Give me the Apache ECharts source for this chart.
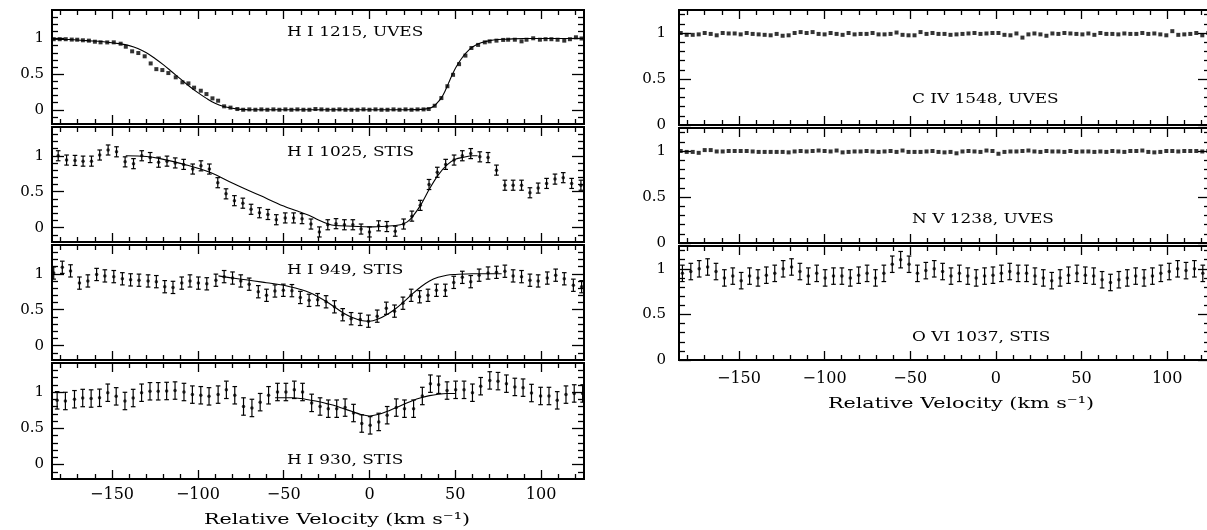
<!DOCTYPE html>
<html><head><meta charset="utf-8">
<script src="https://cdn.jsdelivr.net/npm/echarts@6/dist/echarts.min.js"></script>
<style>html,body{margin:0;padding:0;background:#fff}#c{width:1207px;height:530px}</style>
</head><body><div id="c"></div><script>
// ---------------- DATA ----------------
const xMajor = [-150, -100, -50, 0, 50, 100];
const xMinor = [-180,-170,-160,-140,-130,-120,-110,-90,-80,-70,-60,-40,-30,-20,-10,10,20,30,40,60,70,80,90,110,120];
const yMajor = [0, 0.5, 1];
const yMinorLeft = [-0.1,0.1,0.2,0.3,0.4,0.6,0.7,0.8,0.9,1.1,1.2,1.3];
const yMinorRight = [0.1,0.2,0.3,0.4,0.6,0.7,0.8,0.9,1.1,1.2];

const panelLabels = ['H I 1215, UVES','H I 1025, STIS','H I 949, STIS','H I 930, STIS','C IV 1548, UVES','N V 1238, UVES','O VI 1037, STIS'];
const axisTitle = 'Relative Velocity (km s\u207B\u00B9)';

// H I 1215 UVES (velocity, flux)
const velH1215 = [-184,-180.5,-177,-173.5,-170.3,-167,-163.5,-160,-156.7,-152.8,-149,-145,-142,-138.3,-134.7,-131,-127.5,-124.2,-120.7,-117.2,-112.9,-109,-105.5,-102.2,-98.3,-95,-91.5,-88.2,-84.7,-81,-77,-73.6,
 -70,-66.5,-63,-59.5,-56,-52.5,-49,-45.5,-42,-38.5,-35,-31.5,-28,-24.5,-21,-17.5,-14,-10.5,-7,-3.5,0,3.5,7,10.5,14,17.5,21,24.5,28,31.5,34.5,
 38,41.9,45.4,48.7,52.2,55.9,59.4,63.3,67.2,70,74,77.9,80.8,84.7,88.6,91.5,95.4,99.3,102.6,106,109.6,113.5,116.8,120.3,123.6];
const fluxH1215 = [0.99,0.99,0.99,0.985,0.983,0.975,0.97,0.955,0.946,0.945,0.946,0.927,0.885,0.82,0.796,0.75,0.65,0.57,0.557,0.515,0.455,0.385,0.37,0.31,0.267,0.22,0.16,0.127,0.048,0.03,0.01,0.0,
 0.005,0.0,0.005,0.0,0.005,0.0,0.005,0.0,0.005,0.0,0.0,0.01,0.005,0.0,0.0,0.005,0.0,0.0,0.0,0.005,0.0,0.005,0.0,0.0,0.005,0.0,0.005,0.0,0.005,0.005,0.01,
 0.056,0.164,0.33,0.49,0.64,0.76,0.867,0.91,0.946,0.96,0.97,0.98,0.983,0.983,0.96,0.983,1.003,0.983,0.99,0.99,0.983,0.97,0.99,1.017,1.0];
const modelVel1215 = [-185,-175,-165,-155,-145,-140,-135,-130,-125,-120,-115,-110,-105,-100,-95,-90,-85,-80,-75,-70,-60,-40,-20,0,20,30,35,38,40,42,44,46,48,50,52,54,56,58,60,62,65,70,75,80,90,100,125];
const model1215 = [0.99,0.985,0.97,0.955,0.925,0.9,0.86,0.8,0.72,0.63,0.53,0.43,0.33,0.24,0.16,0.09,0.045,0.02,0.005,0,0,0,0,0,0,0.005,0.02,0.06,0.11,0.17,0.26,0.37,0.48,0.58,0.66,0.73,0.79,0.84,0.88,0.91,0.94,0.97,0.985,0.99,1.0,1.0,1.0];

// H I 1025 STIS
const velH1025 = [-181.4,-176.5,-171.6,-166.9,-162,-157.2,-152.3,-147.4,-142.4,-137.5,-132.7,-127.8,-122.9,-118,-113.2,-108.3,-103,-98.2,-93.3,-88.4,-83.6,-78.7,-73.8,-69,-64.1,-59.2,-54.3,-49.1,-44.2,-39.3,-34.1,-29.2,-24.3,-19.5,-14.6,-9.7,-4.9,0,5.3,10.1,15,19.9,24.7,29.6,34.7,39.5,44.4,49.3,54.1,59,64.3,69.1,74,78.9,83.7,88.6,93.5,98.3,103.2,108.1,112.9,117.8,123.2];
const fluxH1025 = [1.0,0.94,0.935,0.925,0.925,1.01,1.08,1.055,0.915,0.89,1.0,0.975,0.91,0.925,0.9,0.88,0.815,0.86,0.815,0.625,0.47,0.375,0.34,0.255,0.207,0.183,0.11,0.135,0.135,0.125,0.05,-0.06,0.04,0.055,0.04,0.04,-0.02,-0.06,0.025,0.015,-0.05,0.05,0.16,0.31,0.6,0.77,0.88,0.94,1.0,1.03,0.985,0.975,0.8,0.59,0.59,0.59,0.485,0.55,0.615,0.675,0.695,0.615,0.59];
const errH1025 = 0.07;
const modelVel1025 = [-142,-130,-122,-108,-93,-79,-64,-50,-41,-35,-30,-24,-20,-10,0,10,18,22,25,30,35,40,45,50,55,60,63];
const model1025 = [1.0,0.99,0.96,0.88,0.77,0.61,0.45,0.30,0.22,0.17,0.11,0.05,0.03,0.02,0.01,0.02,0.04,0.08,0.15,0.32,0.54,0.73,0.87,0.95,0.98,1.0,1.0];

// H I 949 STIS
const velH949 = [-184,-179,-174.2,-169,-164.1,-159,-154.2,-149,-144,-139.2,-134.3,-129,-124.2,-119.3,-114.5,-109.4,-104.6,-99.7,-94.8,-89.5,-84.7,-79.8,-75,-70.1,-64.8,-60,-55.1,-50.2,-45.2,-40.3,-35.2,-30.2,-25.3,-20.4,-15.6,-10.7,-5.4,-0.6,4.5,9.8,14.6,19.5,24.3,29.2,34.1,39,44.2,49.1,54.1,59,63.9,69.1,74,78.9,83.7,88.6,93.5,98.3,103.6,108.5,113.5,118.8,123.6];
const fluxH949 = [1.01,1.09,1.04,0.87,0.9,0.99,0.97,0.96,0.93,0.915,0.91,0.9,0.89,0.82,0.81,0.87,0.9,0.87,0.86,0.91,0.96,0.94,0.9,0.855,0.75,0.7,0.76,0.77,0.765,0.67,0.63,0.64,0.61,0.54,0.43,0.375,0.365,0.34,0.41,0.52,0.48,0.59,0.7,0.68,0.7,0.77,0.77,0.88,0.95,0.89,0.98,1.01,1.02,1.035,0.97,0.96,0.91,0.9,0.94,0.98,0.93,0.84,0.82];
const errH949 = 0.085;
const modelVel949 = [-88,-80,-70,-60,-50,-40,-35,-30,-25,-20,-15,-10,-5,0,5,10,15,20,25,30,35,40,45,50,60,77];
const model949 = [0.97,0.94,0.91,0.875,0.84,0.78,0.74,0.68,0.61,0.53,0.45,0.39,0.35,0.34,0.37,0.43,0.51,0.61,0.72,0.82,0.9,0.95,0.98,0.99,1.0,1.0];

// H I 930 STIS
const velH930 = [-182,-177.2,-171.9,-167.1,-162.2,-157.3,-152.5,-147.6,-142.5,-137.7,-132.8,-127.9,-123.1,-118.2,-113.3,-108.1,-103.2,-98.3,-93.5,-88.2,-83.4,-78.5,-73.4,-68.5,-63.7,-58.8,-53.6,-48.7,-43.8,-39,-33.7,-28.8,-24,-19.1,-14.2,-9.3,-4.5,0.4,5.4,10.3,15.6,20.4,25.7,30.8,35.5,40.3,45.2,50.2,55.1,60,64.8,70.1,74.9,79.8,84.7,89.5,94.4,99.7,104.6,109.4,114.5,119.3,124.2];
const fluxH930 = [0.885,0.876,0.9,0.917,0.91,0.92,0.99,0.94,0.876,0.917,0.99,1.01,1.01,1.014,1.02,1.0,0.964,0.955,0.94,0.964,1.03,0.955,0.8,0.78,0.86,0.955,1.0,1.0,1.03,1.0,0.85,0.8,0.77,0.77,0.785,0.71,0.565,0.54,0.587,0.68,0.785,0.77,0.77,0.945,1.115,1.1,1.02,1.03,1.03,0.99,1.08,1.16,1.15,1.115,1.07,1.06,0.986,0.945,0.945,0.885,0.964,0.98,0.98];
const errH930 = 0.12;
const modelVel930 = [-55,-45,-40,-35,-30,-25,-20,-15,-10,-5,0,5,10,15,20,25,30,35,40,45,50];
const model930 = [0.92,0.92,0.91,0.89,0.87,0.84,0.81,0.77,0.73,0.69,0.67,0.69,0.73,0.78,0.83,0.88,0.92,0.95,0.97,0.98,0.98];

// UVES velocity grid for C IV / N V
const velUVES = [-184,-180.5,-177,-173.5,-170,-166.5,-163,-159.5,-156,-152.5,
 -149,-145.5,-142,-138.5,-135,-131.5,-128,-124.5,-121,-117.5,
 -114,-110.5,-107,-103.5,-100,-96.5,-93,-89.5,-86,-82.5,
 -79,-75.5,-72,-68.5,-65,-61.5,-58,-54.5,-51,-47.5,
 -44,-40.5,-37,-33.5,-30,-26.5,-23,-19.5,-16,-12.5,
 -9,-5.5,-2,1.5,5,8.5,12,15.5,19,22.5,
 26,29.5,33,36.5,40,43.5,47,50.5,54,57.5,
 61,64.5,68,71.5,75,78.5,82,85.5,89,92.5,
 96,99.5,103,106.5,110,113.5,117,120.5,124];
const fluxCIV = [1.0,0.98,0.98,0.985,1.0,0.99,0.975,1.0,0.995,0.995,
 0.985,1.0,0.99,0.985,0.98,0.975,0.99,0.97,0.975,1.0,
 1.01,1.0,1.01,0.99,0.985,1.0,0.99,0.98,1.0,0.985,
 0.99,0.99,1.0,0.985,0.985,0.99,1.005,0.98,0.975,0.975,
 1.01,0.99,1.0,0.99,0.99,0.98,0.985,0.99,0.995,1.0,
 0.99,0.995,1.0,1.0,0.98,0.975,0.995,0.95,0.985,0.995,
 0.985,0.97,0.995,0.99,1.0,0.995,0.99,0.985,0.995,0.98,
 1.0,0.99,0.99,0.985,0.995,0.99,0.99,1.0,0.99,0.995,
 0.985,0.975,1.02,0.98,0.985,0.99,1.0,0.975,1.0];
const fluxNV = [1.0,0.99,0.99,0.98,1.01,1.01,0.995,0.995,1.0,1.0,
 1.0,1.0,0.995,0.99,0.99,0.99,0.99,0.99,0.985,0.995,
 1.0,0.995,1.0,1.005,1.0,0.995,1.005,0.985,0.99,0.995,
 0.995,1.0,0.995,0.99,0.995,1.0,0.99,1.005,0.99,0.99,
 0.99,0.995,1.0,0.99,0.985,0.99,0.975,0.995,1.0,0.995,
 0.99,1.005,1.0,0.97,0.99,0.995,0.995,1.0,1.005,0.995,
 0.99,1.0,0.995,0.995,0.99,1.0,0.99,0.995,0.995,0.99,
 0.995,0.99,1.0,0.995,0.99,1.0,1.0,1.005,0.99,0.985,
 0.99,1.0,1.0,0.995,1.0,1.0,1.0,0.995,1.0];

// O VI 1037 STIS
const velOVI = [-183,-178.1,-173.2,-168.3,-163.4,-158.5,-153.6,-148.7,-143.8,-138.9,
 -134,-129.1,-124.2,-119.3,-114.4,-109.5,-104.6,-99.7,-94.8,-89.9,
 -85,-80.1,-75.2,-70.3,-65.4,-60.5,-55.6,-50.7,-45.8,-40.9,
 -36,-31.1,-26.2,-21.3,-16.4,-11.5,-6.6,-1.7,3.2,8.1,
 13,17.9,22.8,27.7,32.6,37.5,42.4,47.3,52.2,57.1,
 62,66.9,71.8,76.7,81.6,86.5,91.4,96.3,101.2,106.1,
 111,115.9,120.8];
const fluxOVI = [0.95,0.97,1.0,1.02,0.97,0.9,0.92,0.87,0.92,0.9,
 0.93,0.95,1.0,1.02,0.97,0.92,0.95,0.9,0.92,0.92,
 0.9,0.93,0.95,0.9,0.95,1.05,1.1,1.05,0.95,0.98,
 1.0,0.97,0.92,0.95,0.92,0.9,0.92,0.93,0.95,0.97,
 0.95,0.95,0.92,0.9,0.87,0.9,0.93,0.95,0.93,0.92,
 0.88,0.85,0.88,0.9,0.92,0.9,0.92,0.95,0.97,1.0,
 0.98,1.0,0.95];
const errOVI = 0.09;

// ---------------- CHART ----------------
const FONT = 'DejaVu Serif';
const X_MIN = -185, X_MAX = 125;
const panels = [
  {g:{left:52, top:10, width:532, height:114}, y:[-0.2,1.4], minor:yMinorLeft, xLab:false, yMargin:8, xMargin:8},
  {g:{left:52, top:127, width:532, height:115}, y:[-0.2,1.4], minor:yMinorLeft, xLab:false, yMargin:8, xMargin:8},
  {g:{left:52, top:245, width:532, height:115}, y:[-0.2,1.4], minor:yMinorLeft, xLab:false, yMargin:8, xMargin:8},
  {g:{left:52, top:363, width:532, height:116}, y:[-0.2,1.4], minor:yMinorLeft, xLab:true, yMargin:8, xMargin:8},
  {g:{left:679, top:10, width:531, height:115}, y:[0,1.25], minor:yMinorRight, xLab:false, yMargin:13, xMargin:8},
  {g:{left:679, top:128, width:531, height:115}, y:[0,1.25], minor:yMinorRight, xLab:false, yMargin:13, xMargin:8},
  {g:{left:679, top:246, width:531, height:114}, y:[0,1.25], minor:yMinorRight, xLab:true, yMargin:13, xMargin:11}
];
const xFmt = v => v < 0 ? '\u2212' + Math.abs(v) : String(v);

function xAx(gi, pos, vals, len, lab, margin) {
  return {type:'value', gridIndex:gi, position:pos, min:X_MIN, max:X_MAX,
    axisLine:{show:true, onZero:false, lineStyle:{color:'#000', width:2}},
    axisTick:{show:true, inside:true, length:len, customValues:vals, lineStyle:{color:'#000', width:1.3}},
    axisLabel:{show:lab, customValues:vals, formatter:xFmt, color:'#000', fontFamily:FONT, fontSize:16, margin:margin},
    splitLine:{show:false}, minorTick:{show:false}};
}
function yAx(gi, pos, vals, rng, len, lab, margin) {
  return {type:'value', gridIndex:gi, position:pos, min:rng[0], max:rng[1],
    axisLine:{show:true, onZero:false, lineStyle:{color:'#000', width:2}},
    axisTick:{show:true, inside:true, length:len, customValues:vals, lineStyle:{color:'#000', width:1.3}},
    axisLabel:{show:lab, customValues:vals, color:'#000', fontFamily:FONT, fontSize:15, margin:margin},
    splitLine:{show:false}, minorTick:{show:false}};
}
const grids = [], xAxes = [], yAxes = [];
panels.forEach((p, i) => {
  grids.push(Object.assign({outerBoundsMode:'none', containLabel:false}, p.g));
  xAxes.push(xAx(i,'bottom',xMajor,9,p.xLab,p.xMargin), xAx(i,'bottom',xMinor,5,false,0), xAx(i,'top',xMajor,9,false,0), xAx(i,'top',xMinor,5,false,0));
  yAxes.push(yAx(i,'left',yMajor,p.y,12,true,p.yMargin), yAx(i,'left',p.minor,p.y,6,false,0), yAx(i,'right',yMajor,p.y,12,false,0), yAx(i,'right',p.minor,p.y,6,false,0));
});

const zip = (a, b) => a.map((v, i) => [v, b[i]]);
const zipErr = (a, b, e) => a.map((v, i) => [v, b[i], e]);
const series = [];
function squares(pi, vel, flux) {
  series.push({type:'scatter', xAxisIndex:4*pi, yAxisIndex:4*pi, data:zip(vel, flux), symbol:'rect', symbolSize:4,
    itemStyle:{color:'#000'}, silent:true, z:3});
}
function model(pi, vel, flux) {
  series.push({type:'line', xAxisIndex:4*pi, yAxisIndex:4*pi, data:zip(vel, flux), showSymbol:false, smooth:0.35,
    lineStyle:{color:'#000', width:1.1}, silent:true, z:2});
}
function errPts(pi, vel, flux, err) {
  series.push({type:'custom', xAxisIndex:4*pi, yAxisIndex:4*pi, data:zipErr(vel, flux, err), silent:true, z:3,
    renderItem:(params, api) => {
      const x = api.value(0), y = api.value(1), e = api.value(2);
      const t = api.coord([x, y + e]), b = api.coord([x, y - e]);
      const st = {stroke:'#000', lineWidth:1.2};
      return {type:'group', children:[
        {type:'line', shape:{x1:t[0], y1:t[1], x2:b[0], y2:b[1]}, style:st},
        {type:'line', shape:{x1:t[0]-2.3, y1:t[1], x2:t[0]+2.3, y2:t[1]}, style:st},
        {type:'line', shape:{x1:b[0]-2.3, y1:b[1], x2:b[0]+2.3, y2:b[1]}, style:st}
      ]};
    }});
  series.push({type:'scatter', xAxisIndex:4*pi, yAxisIndex:4*pi, data:zip(vel, flux), symbol:'circle', symbolSize:3.5,
    itemStyle:{color:'#000'}, silent:true, z:4});
}
squares(0, velH1215, fluxH1215); model(0, modelVel1215, model1215);
errPts(1, velH1025, fluxH1025, errH1025); model(1, modelVel1025, model1025);
errPts(2, velH949, fluxH949, errH949); model(2, modelVel949, model949);
errPts(3, velH930, fluxH930, errH930); model(3, modelVel930, model930);
squares(4, velUVES, fluxCIV);
squares(5, velUVES, fluxNV);
errPts(6, velOVI, fluxOVI, errOVI);

const labelPos = [[287,33],[287,153],[287,271],[287,461],[912,100],[912,220],[912,338]];
const graphic = panelLabels.map((t, i) => ({type:'text', x:labelPos[i][0], y:labelPos[i][1], scaleX:1.3,
  style:{text:t, font:'13px "DejaVu Serif"', fill:'#000', textAlign:'left', textVerticalAlign:'middle'}}));
graphic.push({type:'text', x:337, y:520, scaleX:1.38, style:{text:axisTitle, font:'15px "DejaVu Serif"', fill:'#000', textAlign:'center', textVerticalAlign:'middle'}});
graphic.push({type:'text', x:961, y:404, scaleX:1.38, style:{text:axisTitle, font:'15px "DejaVu Serif"', fill:'#000', textAlign:'center', textVerticalAlign:'middle'}});

const chart = echarts.init(document.getElementById('c'), null, {renderer:'canvas'});
chart.setOption({animation:false, backgroundColor:'#fff', grid:grids, xAxis:xAxes, yAxis:yAxes, series:series, graphic:graphic});
</script></body></html>
